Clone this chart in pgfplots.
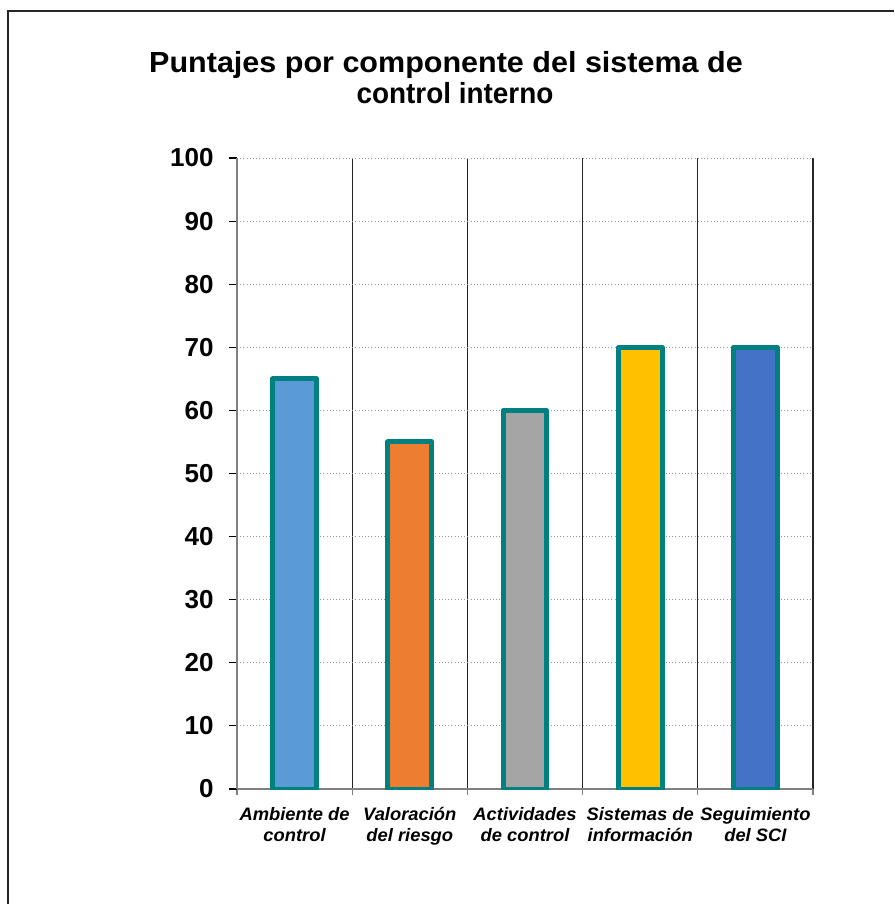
\documentclass[border=0pt]{standalone}
\usepackage{pgfplots}
\pgfplotsset{compat=1.18}
\usepackage{fontspec}
\setmainfont{Liberation Sans}
\newfontfamily\titlefont[FakeStretch=1.05]{Liberation Sans}
\newfontfamily\titlefontb[FakeStretch=0.96]{Liberation Sans}
\newfontfamily\labfont[FakeStretch=1.02]{Liberation Sans}
\definecolor{cA}{HTML}{5B9BD5}
\definecolor{cB}{HTML}{ED7D31}
\definecolor{cC}{HTML}{A5A5A5}
\definecolor{cD}{HTML}{FFC000}
\definecolor{cE}{HTML}{4472C4}
\definecolor{edge}{HTML}{008080}
\begin{document}
\begin{tikzpicture}
\path[use as bounding box] (0pt,0pt) rectangle (670.5pt,678pt);
\draw[line width=1pt, black!85] (6pt,0pt) -- (6pt,669.75pt) -- (670.5pt,669.75pt);
\node[anchor=base, inner sep=0pt, font=\titlefont\bfseries\fontsize{21.8}{25}\selectfont] at (334.5pt,623.25pt) {Puntajes por componente del sistema de};
\node[anchor=base, inner sep=0pt, font=\titlefontb\bfseries\fontsize{21.8}{25}\selectfont] at (341.25pt,600pt) {control interno};
\begin{axis}[
  at={(177.75pt,86.25pt)}, anchor=south west, scale only axis,
  width=432pt, height=473.25pt,
  xmin=-0.5, xmax=4.5, ymin=0, ymax=100,
  xtick={0,1,2,3,4},
  xticklabels={{Ambiente de\\control},{Valoración\\del riesgo},{Actividades\\de control},{Sistemas de\\información},{Seguimiento\\del SCI}},
  minor xtick={-0.5,0.5,1.5,2.5,3.5,4.5},
  ytick={0,10,...,100},
  axis lines=left,
  axis line style={-, black!50, line width=0.9pt},
  tick align=outside,
  major x tick style={draw=none},
  minor x tick style={black!50, line width=0.9pt},
  major y tick style={black, line width=0.8pt},
  major tick length=6pt, minor tick length=4.5pt,
  xminorgrids=true,
  minor x grid style={black!85, line width=0.8pt},
  ymajorgrids=true,
  major y grid style={black!40, dotted, line width=0.6pt},
  /pgf/number format/assume math mode=true,
  yticklabel style={font=\bfseries\fontsize{19.5}{23}\selectfont, xshift=-8pt},
  xticklabel style={font=\labfont\bfseries\itshape\fontsize{13.5}{15.75}\selectfont, align=center, yshift=-4pt},
]
\addplot[ybar, bar width=0.38, bar shift=0pt, fill=cA, draw=edge, line width=3.75pt, line join=round] coordinates {(0,65)};
\addplot[ybar, bar width=0.38, bar shift=0pt, fill=cB, draw=edge, line width=3.75pt, line join=round] coordinates {(1,55)};
\addplot[ybar, bar width=0.38, bar shift=0pt, fill=cC, draw=edge, line width=3.75pt, line join=round] coordinates {(2,60)};
\addplot[ybar, bar width=0.38, bar shift=0pt, fill=cD, draw=edge, line width=3.75pt, line join=round] coordinates {(3,70)};
\addplot[ybar, bar width=0.38, bar shift=0pt, fill=cE, draw=edge, line width=3.75pt, line join=round] coordinates {(4,70)};
\end{axis}
\end{tikzpicture}
\end{document}
